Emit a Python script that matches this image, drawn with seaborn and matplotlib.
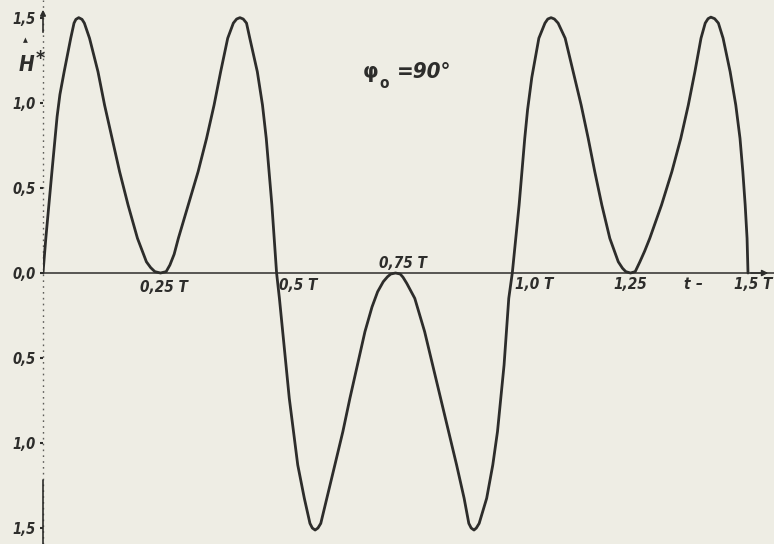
import matplotlib
matplotlib.use("Agg")
import matplotlib.pyplot as plt
import seaborn as sns
import pandas as pd

# Time in periods T and the field H* (phi_0 = 90 deg)
t_T = [
    0.000, 0.006, 0.019, 0.030, 0.036, 0.045, 0.059, 0.066, 0.070, 0.076, 0.083, 0.088, 0.099,
    0.117, 0.131, 0.147, 0.163, 0.181, 0.201, 0.220, 0.229, 0.238, 0.250,
    0.262, 0.270, 0.279, 0.288, 0.309, 0.330, 0.348, 0.364, 0.378, 0.393, 0.405,
    0.412, 0.419, 0.426, 0.433, 0.440, 0.456, 0.467, 0.475, 0.481, 0.487, 0.492, 0.497,
    0.503, 0.510, 0.517, 0.524, 0.533, 0.542, 0.556, 0.568, 0.573, 0.579, 0.585, 0.591,
    0.604, 0.621, 0.638, 0.653, 0.669, 0.685, 0.700, 0.712, 0.724, 0.733, 0.740, 0.750,
    0.760, 0.766, 0.774, 0.791, 0.812, 0.829, 0.846, 0.863, 0.880, 0.896, 0.906,
    0.911, 0.917, 0.922, 0.928, 0.944, 0.957, 0.967, 0.974, 0.981, 0.986, 0.991, 0.9985,
    1.006, 1.013, 1.019, 1.025, 1.031, 1.040, 1.055, 1.068, 1.074, 1.081, 1.088, 1.096,
    1.111, 1.128, 1.145, 1.160, 1.174, 1.189, 1.206, 1.224, 1.233, 1.240, 1.250,
    1.260, 1.270, 1.280, 1.291, 1.316, 1.338, 1.357, 1.373, 1.387, 1.400, 1.409,
    1.415, 1.421, 1.429, 1.437, 1.447, 1.462, 1.474, 1.483, 1.489, 1.494, 1.498, 1.500,
]
h_star = [
    0.000, 0.204, 0.596, 0.920, 1.050, 1.184, 1.381, 1.470, 1.492, 1.502, 1.492, 1.470, 1.381,
    1.184, 0.988, 0.792, 0.596, 0.400, 0.204, 0.066, 0.032, 0.008, 0.000,
    0.008, 0.047, 0.110, 0.204, 0.400, 0.596, 0.792, 0.988, 1.184, 1.381, 1.470,
    1.494, 1.502, 1.494, 1.470, 1.381, 1.184, 0.988, 0.792, 0.596, 0.400, 0.204, 0.000,
    -0.149, -0.345, -0.541, -0.737, -0.933, -1.129, -1.325, -1.473, -1.500, -1.512, -1.500, -1.473,
    -1.325, -1.129, -0.933, -0.737, -0.541, -0.345, -0.200, -0.110, -0.051, -0.022, -0.006, 0.000,
    -0.006, -0.025, -0.061, -0.149, -0.345, -0.541, -0.737, -0.933, -1.129, -1.325, -1.473,
    -1.500, -1.512, -1.500, -1.473, -1.325, -1.129, -0.933, -0.737, -0.541, -0.345, -0.149, 0.000,
    0.204, 0.400, 0.596, 0.792, 0.960, 1.150, 1.381, 1.470, 1.494, 1.502, 1.494, 1.470,
    1.381, 1.184, 0.988, 0.792, 0.596, 0.400, 0.204, 0.066, 0.028, 0.008, 0.000,
    0.008, 0.066, 0.128, 0.204, 0.400, 0.596, 0.792, 0.988, 1.184, 1.381, 1.470,
    1.496, 1.505, 1.496, 1.470, 1.381, 1.184, 0.988, 0.792, 0.596, 0.400, 0.204, 0.000,
]

y_ticks = [1.5, 1.0, 0.5, 0.0, -0.5, -1.0, -1.5]
y_tick_labels = ["1,5", "1,0", "0,5", "0,0", "0,5", "1,0", "1,5"]

PAPER = "#eeede4"
INK = "#2d2d2b"

sns.set_theme(style="white")
plt.rcParams["font.family"] = ["DejaVu Sans"]
plt.rcParams["font.stretch"] = "condensed"

fig = plt.figure(figsize=(7.74, 5.44), dpi=100, facecolor=PAPER)
ax = fig.add_axes([43 / 774, 0, 731 / 774, 1])
ax.set_facecolor(PAPER)

df = pd.DataFrame({"t": t_T, "H": h_star})
sns.lineplot(data=df, x="t", y="H", ax=ax, sort=False, color=INK,
             linewidth=2.0, errorbar=None)
for line in ax.lines:
    line.set_solid_joinstyle("round")
    line.set_solid_capstyle("round")

ax.set_xlim(0, 731 / 470)
ax.set_ylim(-271 / 170, 273 / 170)
for s in ax.spines.values():
    s.set_visible(False)
ax.set_xlabel("")
ax.set_ylabel("")
ax.set_xticks([])
ax.set_yticks(y_ticks)
ax.set_yticklabels(y_tick_labels, fontsize=10.5, fontweight="bold",
                   fontstyle="italic", fontstretch="condensed", color=INK)
ax.tick_params(axis="y", length=2, width=1.5, pad=3, colors=INK, left=True)

# horizontal time axis with arrow
ax.axhline(0, color=INK, lw=1.1, zorder=1)
ax.annotate("", xy=(1.549, 0), xytext=(1.50, 0),
            arrowprops=dict(arrowstyle="-|>", color=INK, lw=1.1,
                            mutation_scale=9), annotation_clip=False)

# vertical axis: dotted, solid near the ends, arrow on top
ax.axvline(0, color=INK, lw=1.0, ls=(0, (1.2, 3)), alpha=0.75, clip_on=False)
ax.axvline(0, ymin=0, ymax=0.117, color=INK, lw=1.2, clip_on=False)
ax.annotate("", xy=(0, 1.565), xytext=(0, 1.40),
            arrowprops=dict(arrowstyle="-|>", color=INK, lw=1.2,
                            mutation_scale=8), annotation_clip=False)

lab = dict(fontsize=11, fontweight="bold", fontstyle="italic",
           fontstretch="condensed", color=INK, va="center")
ax.text(0.257, -0.088, "0,25 T", ha="center", **lab)
ax.text(0.503, -0.075, "0,5 T", ha="left", **lab)
ax.text(0.766, 0.053, "0,75 T", ha="center", **lab)
ax.text(1.004, -0.070, "1,0 T", ha="left", **lab)
ax.text(1.249, -0.070, "1,25", ha="center", **lab)
ax.text(1.370, -0.070, "t", ha="center", **lab)
ax.text(1.397, -0.062, "–", ha="center", **lab)
ax.text(1.511, -0.070, "1,5 T", ha="center", **lab)

# axis title H*
ax.text(-0.035, 1.225, "H", ha="center", va="center", fontsize=15,
        fontstyle="italic", fontweight="bold", color=INK, clip_on=False)
ax.text(-0.005, 1.262, "*", ha="center", va="center", fontsize=14,
        fontweight="bold", color=INK, clip_on=False)
ax.text(-0.038, 1.37, "▲", ha="center", va="center", fontsize=5,
        color=INK, clip_on=False)

# phase annotation
ax.text(0.698, 1.182, "φ", ha="center", va="center", fontsize=16,
        fontweight="bold", color=INK)
ax.text(0.726, 1.115, "o", ha="center", va="center", fontsize=11,
        fontweight="bold", color=INK)
ax.text(0.752, 1.182, "=90°", ha="left", va="center", fontsize=16,
        fontweight="bold", fontstyle="italic", fontstretch="condensed",
        color=INK)

fig.savefig("out.png", dpi=100, facecolor=PAPER)
